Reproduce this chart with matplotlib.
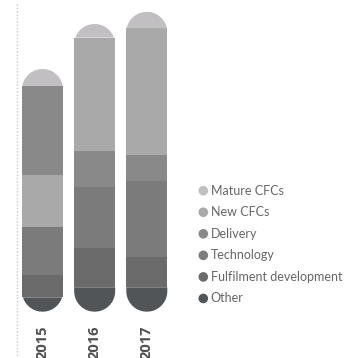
import numpy as np
import matplotlib
matplotlib.use("Agg")
import matplotlib.pyplot as plt
from matplotlib.patches import Polygon

# Capital expenditure by category (£m)
years = ["2015", "2016", "2017"]
series = ["Mature CFCs", "New CFCs", "Delivery", "Technology",
          "Fulfilment development", "Other"]
mature_cfcs = [11.3, 9.1, 10.9]
new_cfcs = [34.5, 75.3, 84.3]
delivery = [59.3, 24.2, 17.5]
technology = [32.2, 40.5, 50.5]
fulfilment = [14.9, 26.4, 20.4]
other = [9.6, 16.3, 16.3]

values = {
    "Mature CFCs": mature_cfcs,
    "New CFCs": new_cfcs,
    "Delivery": delivery,
    "Technology": technology,
    "Fulfilment development": fulfilment,
    "Other": other,
}

# stacking order, bottom to top, for each year
stack_order = [
    ["Other", "Fulfilment development", "Technology", "New CFCs", "Delivery", "Mature CFCs"],
    ["Other", "Fulfilment development", "Technology", "Delivery", "New CFCs", "Mature CFCs"],
    ["Other", "Fulfilment development", "Technology", "Delivery", "New CFCs", "Mature CFCs"],
]

colors = {
    "Mature CFCs": "#c1bfc1",
    "New CFCs": "#aaa9aa",
    "Delivery": "#89898a",
    "Technology": "#7b7b7c",
    "Fulfilment development": "#6b6b6b",
    "Other": "#525558",
}

W, H = 347, 358
fig = plt.figure(figsize=(W / 100, H / 100), dpi=100)

# background layer in pixel coordinates for the legend and guide line
lax = fig.add_axes([0, 0, 1, 1])
lax.set_xlim(0, W)
lax.set_ylim(H, 0)
lax.axis("off")

ax = fig.add_axes([0, 46.3 / H, 190 / W, 311.7 / H])
ax.set_xlim(-0.815, 2.828)
ax.set_ylim(0, 207.8)
ax.axis("off")

bar_w = 0.786

# pixels per data unit along each axis
p0 = ax.transData.transform((0, 0))
p1 = ax.transData.transform((1, 1))
ppx = p1[0] - p0[0]
ppy = p1[1] - p0[1]
r_px = bar_w * ppx / 2


def cap_polygon(xc, y_lo, y_hi, top=True, n=80):
    """Outline of a rounded bar end clipped to the band [y_lo, y_hi]."""
    h = (y_hi - y_lo) * ppy
    ys = np.linspace(0, h, n)
    if top:
        dist = h - ys          # distance from the rounded end
    else:
        dist = ys
    half = np.where(dist >= r_px, r_px,
                    np.sqrt(np.clip(r_px ** 2 - (r_px - dist) ** 2, 0, None)))
    y_data = y_lo + ys / ppy
    x_right = xc + half / ppx
    x_left = xc - half / ppx
    pts = np.concatenate([np.column_stack([x_right, y_data]),
                          np.column_stack([x_left[::-1], y_data[::-1]])])
    return pts


for i, year in enumerate(years):
    order = stack_order[i]
    base = 0.0
    for j, name in enumerate(order):
        v = values[name][i]
        if j == 0:
            ax.add_patch(Polygon(cap_polygon(i, base, base + v, top=False),
                                 closed=True, facecolor=colors[name],
                                 edgecolor="none"))
        elif j == len(order) - 1:
            ax.add_patch(Polygon(cap_polygon(i, base, base + v, top=True),
                                 closed=True, facecolor=colors[name],
                                 edgecolor="none"))
        else:
            ax.bar(i, v, bottom=base, width=bar_w, color=colors[name],
                   edgecolor="none", linewidth=0)
        base += v
    ax.text(i, -8.9, year, rotation=90, ha="center", va="top",
            fontsize=10.5, fontweight="bold", family=["Open Sans", "DejaVu Sans"],
            color="#4f4f4f", clip_on=False)

# dotted guide on the left
lax.plot([17.3, 17.3], [4, H], color="#c8c8c8", lw=1.0,
         linestyle=(0, (1.0, 1.4)))

# legend
leg_x, leg_y0, leg_dy = 203.3, 190.7, 21.55
for k, name in enumerate(series):
    y = leg_y0 + k * leg_dy
    lax.scatter([leg_x], [y], s=(9.6 * 0.72) ** 2, color=colors[name],
                edgecolors="none")
    lax.text(leg_x + 7.5, y, name, ha="left", va="center", fontsize=9.0,
             family=["Lato", "DejaVu Sans"], fontweight="normal",
             color="#666666")

fig.savefig("out.png", dpi=100)
